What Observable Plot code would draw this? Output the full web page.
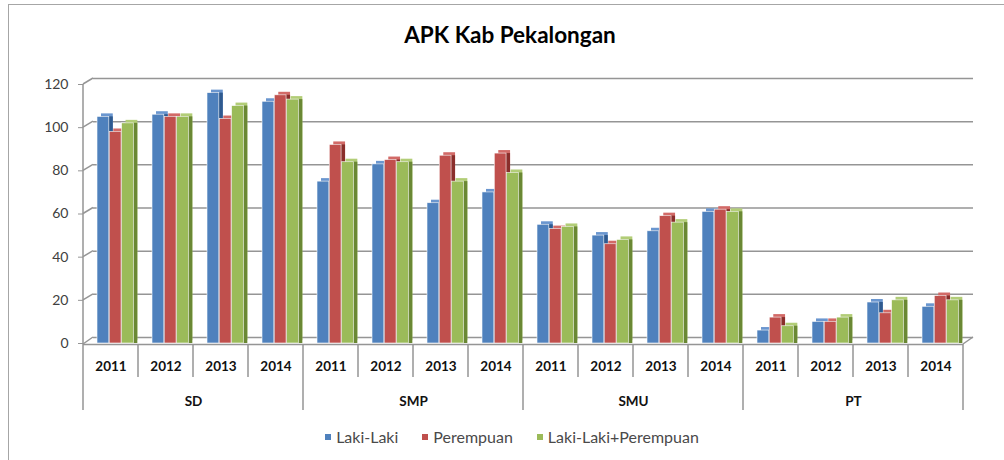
<!DOCTYPE html>
<html>
<head>
<meta charset="utf-8">
<script src="https://cdn.jsdelivr.net/npm/d3@7"></script>
<script src="https://cdn.jsdelivr.net/npm/@observablehq/plot@0.6"></script>
<style>
  html, body { margin: 0; padding: 0; background: #fff; overflow: hidden; }
  #wrap { position: relative; width: 1004px; height: 460px; font-family: Lato, "Open Sans", sans-serif; }
  #frame { position: absolute; left: 8px; top: 4px; right: -4px; bottom: -4px; border-left: 1.5px solid #a6a6a6; border-top: 1.5px solid #a6a6a6; }
  #title { position: absolute; left: 8px; width: 1004px; top: 21px; text-align: center; font-weight: bold; font-size: 22.5px; color: #000; line-height: 28px; }
  #chart { position: absolute; left: 0; top: 56px; }
  #legend { position: absolute; left: 10px; width: 1004px; top: 427px; display: flex; justify-content: center; gap: 24px; font-size: 16px; color: #4a4a4a; line-height: 20px; }
  #legend span.item { display: flex; align-items: center; gap: 5px; }
  #legend i { display: inline-block; width: 6px; height: 6px; }
</style>
</head>
<body>
<div id="wrap">
  <div id="frame"></div>
  <div id="title">APK Kab Pekalongan</div>
  <div id="chart"></div>
  <div id="legend"></div>
</div>
<script>
// ---- data ----
const groups = ["SD", "SMP", "SMU", "PT"];
const years = ["2011", "2012", "2013", "2014"];
const seriesNames = ["Laki-Laki", "Perempuan", "Laki-Laki+Perempuan"];
// values listed group by group (SD, SMP, SMU, PT), each 2011..2014
const lakiLaki  = [105, 106, 116, 112,  75, 83, 65, 70,  55, 50, 52, 61,   6, 10, 19, 17];
const perempuan = [ 98, 105, 104, 115,  92, 85, 87, 88,  53, 46, 59, 62,  12, 10, 14, 22];
const total     = [102, 105, 110, 113,  84, 84, 75, 79,  54, 48, 56, 61,   8, 12, 20, 20];
const yTicks = [0, 20, 40, 60, 80, 100, 120];

// ---- styles ----
const colors = ["#4F81BD", "#C0504D", "#9BBB59"];
const capColors = ["#6a96cf", "#d26a67", "#b2cd77"];
const sideColors = ["#2f5a8f", "#8a2e2b", "#6a8834"];

const keys = groups.flatMap(g => years.map(y => g + " " + y));
const seriesValues = [lakiLaki, perempuan, total];
const rows = seriesValues.flatMap((vals, si) => keys.map((k, i) => ({key: k, series: seriesNames[si], value: vals[i]})));

const barMarks = seriesNames.flatMap((s, si) => {
  const d = rows.filter(r => r.series === s);
  return [
    Plot.barY(d, {fx: "key", x: "series", y: "value", fill: capColors[si], dx: 4, dy: -3}),
    Plot.barY(d, {fx: "key", x: "series", y: "value", fill: sideColors[si], dx: 4}),
    Plot.barY(d, {fx: "key", x: "series", y: "value", fill: colors[si], stroke: "#ffffff", strokeWidth: 0.7, strokeOpacity: 0.85})
  ];
});

const chart = Plot.plot({
  width: 1004,
  height: 370,
  marginLeft: 82,
  marginRight: 41,
  marginTop: 28,
  marginBottom: 83,
  style: {fontFamily: "Lato, 'Open Sans', sans-serif", fontSize: "14px", color: "#404040", background: "transparent", overflow: "visible"},
  fx: {domain: keys, padding: 0, axis: null},
  x: {domain: seriesNames, paddingInner: 0.04, paddingOuter: 0.76, align: 0.75, round: false, axis: null},
  y: {domain: [0, 120], ticks: yTicks, tickSize: 5, tickPadding: 10, label: null, grid: false},
  marks: [
    Plot.ruleY(yTicks, {dx: 10, dy: -6, stroke: "#959595", strokeWidth: 1.5}),
    ...barMarks,
    Plot.ruleY([0], {stroke: "#959595", strokeWidth: 1.5, dy: 1}),
    Plot.text(keys, {fx: d => d, text: d => d.split(" ")[1], frameAnchor: "bottom", lineAnchor: "middle", dy: 23, fontWeight: "bold", fontSize: 13.5, fill: "#111"}),
    Plot.text(groups, {fx: g => g + " " + years[1], text: d => d, frameAnchor: "bottom-right", lineAnchor: "middle", textAnchor: "middle", dy: 58, fontWeight: "bold", fontSize: 13.5, fill: "#111"})
  ]
});
document.getElementById("chart").appendChild(chart);

// ---- 3D frame and category-axis lines, placed with Plot's own scales ----
const ys = chart.scale("y");
const yPos = v => ys.apply ? ys.apply(v) : ys.range[0] + (v - ys.domain[0]) / (ys.domain[1] - ys.domain[0]) * (ys.range[1] - ys.range[0]);
const fs = chart.scale("fx");
const bandStart = k => fs.apply ? fs.apply(k) : d3.scaleBand(fs.domain, fs.range)(k);
const bw = fs.bandwidth;
const svg = d3.select(chart);
const g = svg.append("g").attr("stroke", "#959595").attr("stroke-width", 1.5).attr("fill", "none");
const x0 = bandStart(keys[0]);
const xEnd = bandStart(keys[keys.length - 1]) + bw;
const yBase = yPos(0) + 1;
const catBottom = 354, yearBottom = 321;
// left wall diagonals
yTicks.forEach(v => {
  g.append("line").attr("x1", x0).attr("y1", yPos(v) + (v === 0 ? 1 : 0)).attr("x2", x0 + 10).attr("y2", yPos(v) - 6);
});
// right floor edge
g.append("line").attr("x1", xEnd).attr("y1", yBase).attr("x2", xEnd + 10).attr("y2", yPos(0) - 6);
// y axis line
g.append("line").attr("x1", x0).attr("y1", yPos(120)).attr("x2", x0).attr("y2", catBottom);
// category separators
keys.forEach((k, i) => {
  if (i === 0) return;
  const x = bandStart(k);
  g.append("line").attr("x1", x).attr("y1", yBase).attr("x2", x).attr("y2", i % years.length === 0 ? catBottom : yearBottom);
});
g.append("line").attr("x1", xEnd).attr("y1", yBase).attr("x2", xEnd).attr("y2", catBottom);
svg.selectAll('g[aria-label="y-axis tick"] path, g[aria-label="y-axis tick"]').attr("stroke", "#959595");

// ---- legend ----
const legend = d3.select("#legend");
seriesNames.forEach((s, i) => {
  const it = legend.append("span").attr("class", "item");
  it.append("i").style("background", colors[i]);
  it.append("span").text(s);
});
</script>
</body>
</html>
